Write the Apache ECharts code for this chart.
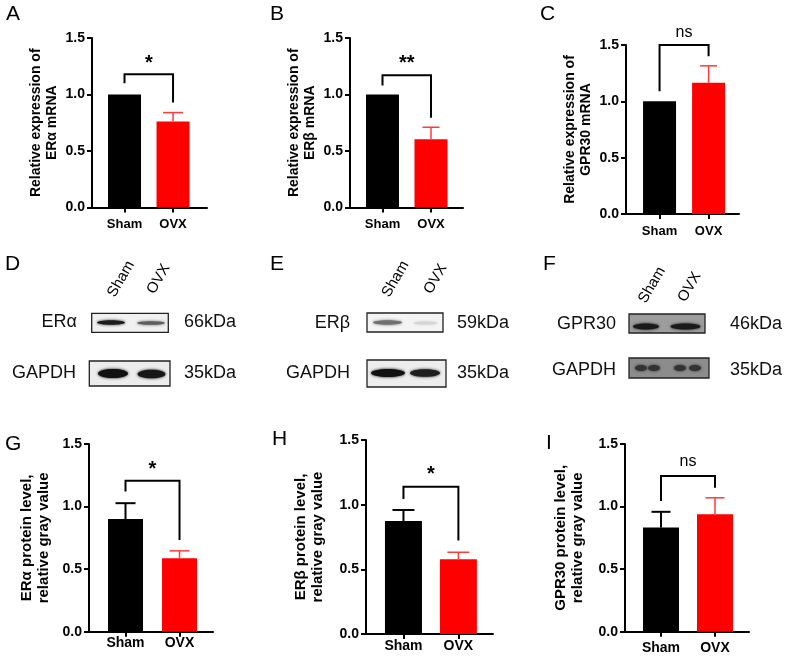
<!DOCTYPE html>
<html>
<head>
<meta charset="utf-8">
<script src="https://cdn.jsdelivr.net/npm/echarts@6/dist/echarts.min.js"></script>
<style>
  html, body { margin: 0; padding: 0; background: #fff; }
  #main { width: 789px; height: 662px; }
</style>
</head>
<body>
<div id="main"></div>
<script>
// ---- data ----
var categories = ['Sham', 'OVX'];
var yTicks = [0, 0.5, 1.0, 1.5];

// A-C: relative mRNA expression (ERa, ERb, GPR30)
var mrnaSham = [1.0, 1.0, 1.0];
var mrnaShamErr = [0, 0, 0];
var mrnaOvx = [0.76, 0.605, 1.165];
var mrnaOvxErr = [0.08, 0.105, 0.15];

// G-I: protein level, relative gray value (ERa, ERb, GPR30)
var proteinSham = [0.90, 0.874, 0.832];
var proteinShamErr = [0.127, 0.085, 0.126];
var proteinOvx = [0.587, 0.578, 0.939];
var proteinOvxErr = [0.059, 0.054, 0.131];

var sigMarks = ['*', '**', 'ns', '*', '*', 'ns'];
// bracket: [top, left leg end, right leg end, text y] in axis units
var brackets = [
  [1.18, 1.10, 0.93, 1.30],
  [1.17, 1.08, 0.795, 1.30],
  [1.50, 1.09, 1.40, 1.61],
  [1.207, 1.12, 0.733, 1.32],
  [1.139, 1.044, 0.722, 1.255],
  [1.245, 1.045, 1.151, 1.36]
];
var yTitles = [
  'Relative expression of\nERα mRNA',
  'Relative expression of\nERβ mRNA',
  'Relative expression of\nGPR30 mRNA',
  'ERα protein level,\nrelative gray value',
  'ERβ protein level,\nrelative gray value',
  'GPR30 protein level,\nrelative gray value'
];

var FONT = '"Liberation Sans", Arial, Helvetica, sans-serif';

// panel layout (pixels)
var panels = [
  { letter: 'A', lx: 6, ly: 4, left: 92, top: 38, w: 115, h: 169.5, xmin: 0.33, xmax: 2.70, barW: 33, cap: 20, lm: 10, xs: 13, gap: 32, ns: 14 },
  { letter: 'B', lx: 270, ly: 4, left: 350, top: 38, w: 113, h: 169.5, xmin: 0.33, xmax: 2.66, barW: 33, cap: 17, lm: 10, xs: 13, gap: 32, ns: 14 },
  { letter: 'C', lx: 540, ly: 4, left: 626, top: 45, w: 113, h: 169, xmin: 0.316, xmax: 2.62, barW: 33, cap: 17, lm: 11, xs: 13, gap: 32, ns: 14 },
  { letter: 'G', lx: 5, ly: 434, left: 89, top: 444, w: 124, h: 187.7, xmin: 0.324, xmax: 2.62, barW: 35, cap: 20, lm: 4, xs: 14, gap: 37, ns: 15 },
  { letter: 'H', lx: 272, ly: 429, left: 366, top: 440, w: 127, h: 194, xmin: 0.318, xmax: 2.63, barW: 37, cap: 22, lm: 5, xs: 14, gap: 40, ns: 15 },
  { letter: 'I', lx: 546, ly: 433, left: 625, top: 444, w: 124, h: 187.7, xmin: 0.333, xmax: 2.63, barW: 36, cap: 19, lm: 9, xs: 14, gap: 39, ns: 15 }
];

var shamMean = mrnaSham.concat(proteinSham);
var shamErr = mrnaShamErr.concat(proteinShamErr);
var ovxMean = mrnaOvx.concat(proteinOvx);
var ovxErr = mrnaOvxErr.concat(proteinOvxErr);

var chart = echarts.init(document.getElementById('main'), null, { width: 789, height: 662 });

var grids = [], xAxes = [], yAxes = [], series = [], graphics = [];

panels.forEach(function (p, i) {
  grids.push({ left: p.left, top: p.top, width: p.w, height: p.h, containLabel: false, outerBoundsMode: 'none' });

  xAxes.push({
    gridIndex: i, type: 'value', min: p.xmin, max: p.xmax,
    splitLine: { show: false },
    axisLine: { show: true, onZero: false, lineStyle: { color: '#000', width: 2 } },
    axisTick: { show: true, customValues: [1, 2], length: 5, lineStyle: { color: '#000', width: 2 } },
    axisLabel: {
      show: true, customValues: [1, 2], margin: p.lm,
      formatter: function (v) { return categories[Math.round(v) - 1]; },
      color: '#000', fontFamily: FONT, fontWeight: 'bold', fontSize: p.xs
    }
  });

  yAxes.push({
    gridIndex: i, type: 'value',
    min: yTicks[0], max: yTicks[yTicks.length - 1], interval: yTicks[1] - yTicks[0],
    name: yTitles[i], nameLocation: 'middle', nameGap: p.gap, nameRotate: 90,
    nameTextStyle: { fontFamily: FONT, fontWeight: 'bold', fontSize: p.ns, lineHeight: p.ns + 2, color: '#000' },
    splitLine: { show: false },
    axisLine: { show: true, onZero: false, lineStyle: { color: '#000', width: 2 } },
    axisTick: { show: true, length: 5, lineStyle: { color: '#000', width: 2 } },
    axisLabel: {
      margin: 7, color: '#000', fontFamily: FONT, fontWeight: 'bold', fontSize: 14,
      formatter: function (v) { return v.toFixed(1); }
    }
  });

  series.push({
    type: 'bar', xAxisIndex: i, yAxisIndex: i, barWidth: p.barW, silent: true,
    data: [
      { value: [1, shamMean[i]], itemStyle: { color: '#000' } },
      { value: [2, ovxMean[i]], itemStyle: { color: '#ff0000' } }
    ]
  });

  // error bars (mean + SD, upward only)
  series.push({
    type: 'custom', xAxisIndex: i, yAxisIndex: i, z: 3, silent: true,
    data: [[1, shamMean[i], shamErr[i]], [2, ovxMean[i], ovxErr[i]]],
    renderItem: function (params, api) {
      var x = api.value(0), m = api.value(1), e = api.value(2);
      if (!e) return null;
      var b = api.coord([x, m]), t = api.coord([x, m + e]);
      var col = x === 1 ? '#000' : '#ff3a3a';
      var lw = x === 1 ? 2 : 1.5;
      return {
        type: 'group', children: [
          { type: 'line', shape: { x1: b[0], y1: b[1], x2: t[0], y2: t[1] }, style: { stroke: col, lineWidth: lw } },
          { type: 'line', shape: { x1: t[0] - p.cap / 2, y1: t[1], x2: t[0] + p.cap / 2, y2: t[1] }, style: { stroke: col, lineWidth: lw } }
        ]
      };
    }
  });

  // significance bracket
  var br = brackets[i];
  series.push({
    type: 'custom', xAxisIndex: i, yAxisIndex: i, z: 4, silent: true,
    data: [[1, 2, br[0], br[1], br[2], br[3]]],
    encode: { x: [0, 1], y: [2, 3, 4, 5] },
    renderItem: function (params, api) {
      var a = api.coord([api.value(0), api.value(3)]);
      var at = api.coord([api.value(0), api.value(2)]);
      var bt = api.coord([api.value(1), api.value(2)]);
      var b = api.coord([api.value(1), api.value(4)]);
      var tp = api.coord([(api.value(0) + api.value(1)) / 2, api.value(5)]);
      var mark = sigMarks[i];
      var isNs = mark === 'ns';
      return {
        type: 'group', children: [
          { type: 'polyline', shape: { points: [a, at, bt, b] }, style: { stroke: '#000', lineWidth: 2, fill: null } },
          {
            type: 'text', x: tp[0], y: tp[1] + (isNs ? 0 : 3),
            style: {
              text: mark, fill: '#000', align: 'center', verticalAlign: 'middle',
              font: (isNs ? 'normal 16px ' : 'bold 20px ') + FONT
            }
          }
        ]
      };
    }
  });

  graphics.push({
    type: 'text', x: p.lx, y: p.ly, silent: true,
    style: { text: p.letter, font: 'normal 21px ' + FONT, fill: '#000', align: 'left', verticalAlign: 'top' }
  });
});

// ---- western blot strips (middle row) ----
var blotLetters = [['D', 5, 254], ['E', 270, 254], ['F', 543, 254]];
blotLetters.forEach(function (l) {
  graphics.push({ type: 'text', x: l[1], y: l[2], silent: true,
    style: { text: l[0], font: 'normal 21px ' + FONT, fill: '#000', align: 'left', verticalAlign: 'top' } });
});

var laneLabels = [
  [121, 279], [158.5, 279],
  [395.5, 279], [435.5, 279],
  [652, 285], [689.5, 287]
];
laneLabels.forEach(function (l, k) {
  graphics.push({
    type: 'text', x: l[0], y: l[1], rotation: Math.PI / 3, silent: true,
    style: { text: categories[k % 2], font: 'normal 15px ' + FONT, fill: '#000', align: 'center', verticalAlign: 'middle' }
  });
});

var blotText = [
  ['ERα', 77, 322.5, 'right'], ['66kDa', 184, 322.5, 'left'],
  ['GAPDH', 76, 373.5, 'right'], ['35kDa', 184, 373.5, 'left'],
  ['ERβ', 350, 323, 'right'], ['59kDa', 457, 323, 'left'],
  ['GAPDH', 350, 373.5, 'right'], ['35kDa', 457, 373.5, 'left'],
  ['GPR30', 616, 324, 'right'], ['46kDa', 730, 324, 'left'],
  ['GAPDH', 616, 370, 'right'], ['35kDa', 730, 370, 'left']
];
blotText.forEach(function (t) {
  graphics.push({ type: 'text', x: t[1], y: t[2], silent: true,
    style: { text: t[0], font: 'normal 18px ' + FONT, fill: '#111', align: t[3], verticalAlign: 'middle' } });
});

var blots = [
  { x: 91.7, y: 313.3, w: 76.6, h: 19, bg: '#f1f1f1', bands: [[111, 322.5, 14, 2.3, '#1c1c1c'], [151, 323, 14, 1.8, '#5e5e5e']] },
  { x: 89.3, y: 361, w: 80.7, h: 25, bg: '#ececec', bands: [[113, 373.5, 15, 4.5, '#111'], [151.5, 374, 14, 4.3, '#171717']] },
  { x: 367, y: 313, w: 76, h: 19, bg: '#f4f4f4', bands: [[387.5, 322.5, 14.5, 2.2, '#707070'], [425.5, 323, 12, 1.6, '#d4d4d4']] },
  { x: 367, y: 360, w: 79, h: 27, bg: '#ededed', bands: [[388, 373, 17, 4, '#111'], [425, 373, 15, 3.8, '#1e1e1e']] },
  { x: 629, y: 314, w: 76, h: 19, bg: '#9d9d9d', bands: [[646, 326.5, 13, 3, '#1a1a1a'], [685.5, 326.5, 15, 3, '#1a1a1a']] },
  { x: 629, y: 358, w: 80, h: 20, bg: '#8c8c8c', bands: [[641, 368, 6, 3, '#333'], [654, 368, 6, 3, '#333'], [680, 368, 6, 3, '#333'], [695, 368, 6, 3, '#333']] }
];
blots.forEach(function (b) {
  graphics.push({ type: 'rect', silent: true, shape: { x: b.x, y: b.y, width: b.w, height: b.h },
    style: { fill: b.bg, stroke: '#222', lineWidth: 1.3 } });
  b.bands.forEach(function (d) {
    graphics.push({ type: 'ellipse', silent: true, shape: { cx: d[0], cy: d[1], rx: d[2], ry: d[3] },
      style: { fill: d[4], shadowBlur: 3, shadowColor: d[4] } });
  });
});

chart.setOption({
  animation: false,
  backgroundColor: '#fff',
  grid: grids,
  xAxis: xAxes,
  yAxis: yAxes,
  series: series,
  graphic: graphics
});
</script>
</body>
</html>
